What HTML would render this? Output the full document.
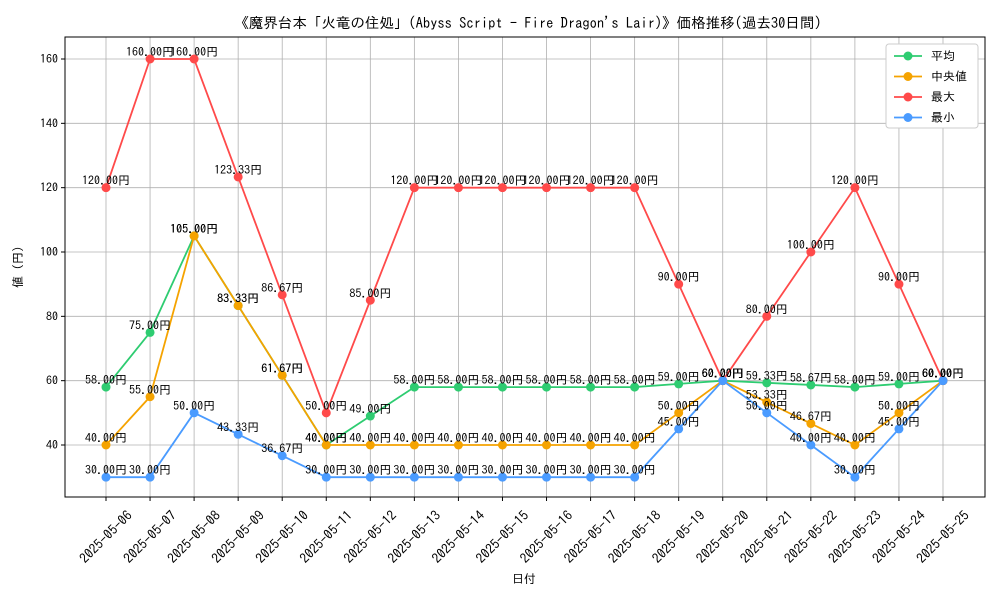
<!DOCTYPE html>
<html><head><meta charset="utf-8">
<style>
html,body{margin:0;padding:0;background:#fff;}
svg{display:block;font-family:"IPAGothic","Liberation Sans","Noto Sans CJK JP",sans-serif;}
</style></head>
<body>
<svg id="chart" width="1000" height="600" viewBox="0 0 1000 600" xmlns="http://www.w3.org/2000/svg">
<rect x="0" y="0" width="1000" height="600" fill="#fff"/>
<text x="528" y="28" text-anchor="middle" font-size="14.5" fill="#000">《魔界台本「火竜の住処」(Abyss Script - Fire Dragon's Lair)》価格推移(過去30日間)</text>
<g id="grid"></g>
<g id="axes"></g>
<g id="series"></g>
<g id="labels"></g>
<text x="524" y="583" text-anchor="middle" font-size="12">日付</text>
<text transform="translate(22,267) rotate(-90)" text-anchor="middle" font-size="12">値 (円)</text>
<g id="legend"></g>
</svg>
<script>
const dates = ["2025-05-06","2025-05-07","2025-05-08","2025-05-09","2025-05-10","2025-05-11","2025-05-12","2025-05-13","2025-05-14","2025-05-15","2025-05-16","2025-05-17","2025-05-18","2025-05-19","2025-05-20","2025-05-21","2025-05-22","2025-05-23","2025-05-24","2025-05-25"];
const meanVals = [58,75,105,83.33,61.67,40,49,58,58,58,58,58,58,59,60,59.33,58.67,58,59,60];
const medianVals = [40,55,105,83.33,61.67,40,40,40,40,40,40,40,40,50,60,53.33,46.67,40,50,60];
const maxVals = [120,160,160,123.33,86.67,50,85,120,120,120,120,120,120,90,60,80,100,120,90,60];
const minVals = [30,30,50,43.33,36.67,30,30,30,30,30,30,30,30,45,60,50,40,30,45,60];
const yTicks = [40,60,80,100,120,140,160];
const seriesNames = ["平均","中央値","最大","最小"];
const seriesColors = ["#2ecc71","#f5a300","#ff4a4a","#4a9bff"];

const NS="http://www.w3.org/2000/svg";
const L=65,R=985,T=37,B=497;
function xs(i){return 106+i*(943-106)/(dates.length-1);}
function ys(v){return 445-(v-40)*(445-59)/120;}
function mk(tag,attrs,parent){const e=document.createElementNS(NS,tag);for(const k in attrs)e.setAttribute(k,attrs[k]);parent.appendChild(e);return e;}
const grid=document.getElementById('grid'),axes=document.getElementById('axes'),ser=document.getElementById('series'),lab=document.getElementById('labels'),leg=document.getElementById('legend');

dates.forEach((d,i)=>{
  const g=mk('line',{x1:xs(i),x2:xs(i),y1:T,y2:B,stroke:'#b0b0b0','stroke-width':0.8},grid);
  
  
  mk('line',{x1:xs(i),x2:xs(i),y1:B,y2:B+4,stroke:'#000'},axes);
  const cx=xs(i), cy=537;
  const t=mk('text',{x:cx,y:cy+4.5,'font-size':13.5,'text-anchor':'middle',transform:`rotate(-45 ${cx} ${cy})`},axes);
  
  
  t.textContent=d;
});
yTicks.forEach(v=>{
  const g=mk('line',{x1:L,x2:R,y1:ys(v),y2:ys(v),stroke:'#b0b0b0','stroke-width':0.8},grid);
  
  
  mk('line',{x1:L-4,x2:L,y1:ys(v),y2:ys(v),stroke:'#000'},axes);
  const t=mk('text',{x:L-7,y:ys(v)+4,'font-size':12,'text-anchor':'end'},axes);
  
  
  t.textContent=v;
});
const frame=mk('rect',{x:L,y:T,width:R-L,height:B-T,fill:'none',stroke:'#000','stroke-width':1},axes);



const all=[meanVals,medianVals,maxVals,minVals];
all.forEach((vals,s)=>{
  const pts=vals.map((v,i)=>xs(i)+','+ys(v)).join(' ');
  const pl=mk('polyline',{points:pts,fill:'none',stroke:seriesColors[s],'stroke-width':1.8},ser);
  
  
  vals.forEach((v,i)=>{
    const c=mk('circle',{cx:xs(i),cy:ys(v),r:4.5,fill:seriesColors[s]},ser);
    
    
    const t=mk('text',{x:xs(i),y:ys(v)-3,'font-size':12,'text-anchor':'middle'},lab);
    
    
    t.textContent=v.toFixed(2)+'円';
  });
});

mk('rect',{x:886,y:44,width:92,height:84,fill:'#fff',stroke:'#ccc',rx:3},leg);
seriesNames.forEach((n,s)=>{
  const y=56+s*20.5;
  const e=mk('g',{},leg);
  
  
  mk('line',{x1:894,x2:922,y1:y,y2:y,stroke:seriesColors[s],'stroke-width':1.8},e);
  mk('circle',{cx:908,cy:y,r:4.5,fill:seriesColors[s]},e);
  const t=mk('text',{x:931,y:y+4,'font-size':12},e);
  t.textContent=(s===1?' ':'')+n;
});
</script>
</body></html>
